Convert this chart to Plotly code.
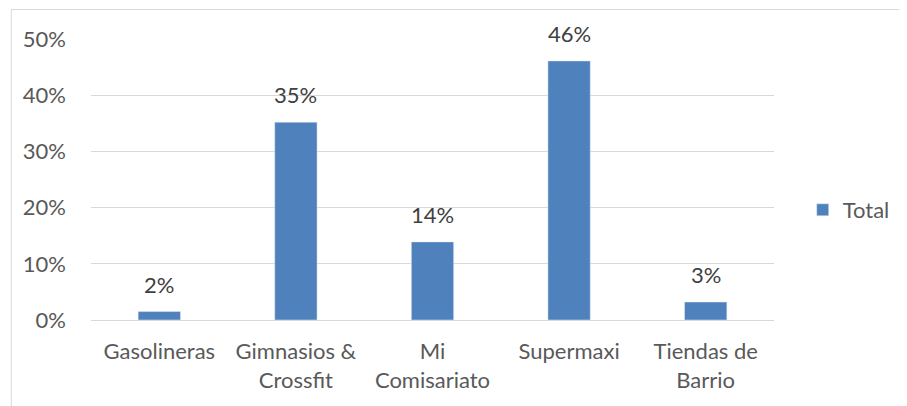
import plotly.graph_objects as go

categories = ["Gasolineras", "Gimnasios &<br>Crossfit", "Mi<br>Comisariato", "Supermaxi", "Tiendas de<br>Barrio"]
values = [0.015, 0.352, 0.139, 0.461, 0.032]
labels = ["2%", "35%", "14%", "46%", "3%"]
y_ticks = [0, 0.1, 0.2, 0.3, 0.4, 0.5]
y_ticktext = ["0%", "10%", "20%", "30%", "40%", "50%"]
series_name = "Total"

FONT = "Lato"
GRAY = "#595959"
BAR = "#4F81BD"
FS = 22

OFF = 8  # default page body margin
W, H = 907 - OFF, 406 - OFF
L, T = 91 - OFF, 39 - OFF
R = W - (781 - OFF)
B = H - (320 - OFF)
pw, ph = W - L - R, H - T - B

fig = go.Figure()
fig.add_trace(go.Bar(x=categories, y=values, name=series_name, marker_color=BAR,
                     width=0.31, showlegend=True))

for c, v, t in zip(categories, values, labels):
    fig.add_annotation(x=c, y=v, text=t, showarrow=False, yanchor="bottom",
                       yshift=12, font=dict(family=FONT, size=FS, color="#404040"))

def px_x(p):
    return (p - OFF - L) / pw

def px_y(p):
    return (H - B - (p - OFF)) / ph

fig.add_shape(type="rect", xref="paper", yref="paper",
              x0=px_x(10.5), x1=px_x(930), y0=px_y(430), y1=px_y(9.5),
              line=dict(color="#D9D9D9", width=1), fillcolor="rgba(0,0,0,0)", layer="below")

fig.update_layout(
    width=W, height=H,
    margin=dict(l=L, r=R, t=T, b=B, pad=0),
    paper_bgcolor="white", plot_bgcolor="white",
    font=dict(family=FONT, size=FS, color=GRAY),
    showlegend=True,
    legend=dict(x=px_x(810), y=px_y(210), xanchor="left", yanchor="middle",
                font=dict(family=FONT, size=FS, color=GRAY), bgcolor="rgba(0,0,0,0)"),
    bargap=0.69,
)
fig.update_xaxes(showgrid=False, showline=True, linecolor="#D9D9D9", linewidth=1,
                 ticks="", tickfont=dict(family=FONT, size=FS, color=GRAY),
                 ticklabelstandoff=12, zeroline=False, fixedrange=True)
fig.update_yaxes(range=[0, 0.5], tickvals=y_ticks, ticktext=y_ticktext,
                 showgrid=True, gridcolor="#D9D9D9", gridwidth=1, zeroline=False,
                 showline=False, ticks="", tickfont=dict(family=FONT, size=FS, color=GRAY),
                 ticklabelstandoff=24, fixedrange=True)

fig.write_html("out.html")
